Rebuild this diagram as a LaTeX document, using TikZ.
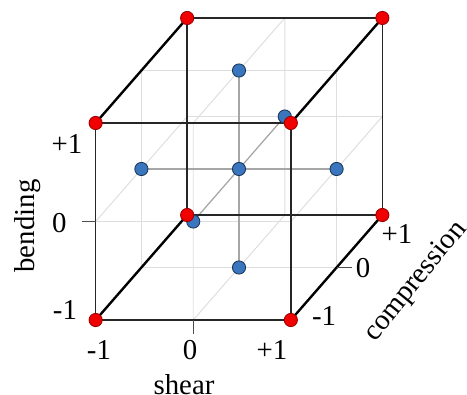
\documentclass[tikz,border=0pt]{standalone}
\usepackage{fontspec}
\setmainfont{Liberation Serif}
\usetikzlibrary{calc}

\begin{document}
\begin{tikzpicture}[x={(2.44cm,0cm)},y={(0cm,2.4625cm)},z={(1.144cm,1.3125cm)},
    font=\fontsize{20.5}{24}\selectfont]
    % Colores
    \definecolor{cornercolor}{RGB}{240,0,0}
    \definecolor{pointcolor}{RGB}{58,118,190}
    \tikzset{
        edge/.style={black!85,line width=1.2pt},
        depthedge/.style={black,line width=1.7pt},
        gridline/.style={black!13,line width=0.7pt},
        centerline/.style={black!35,line width=0.9pt},
        tickline/.style={black!70,line width=1pt},
        corner/.style={circle,fill=cornercolor,draw=cornercolor!65!black,line width=0.6pt,inner sep=0pt,minimum size=0.33cm},
        facedot/.style={circle,fill=pointcolor,draw=pointcolor!45!black,line width=0.6pt,inner sep=0pt,minimum size=0.33cm}
    }

    \useasboundingbox (-5.975cm,-5.625cm) rectangle (5.7cm,4.225cm);

    % Esquinas del cubo
    \foreach \i/\xv in {l/-1,r/1}
        \foreach \j/\yv in {b/-1,t/1}
            \foreach \k/\zv in {f/-1,k/1}
                \coordinate (c\i\j\k) at (\xv,\yv,\zv);

    % Centros de las caras
    \coordinate (fl) at (-1,0,0);
    \coordinate (fr) at (1,0,0);
    \coordinate (fb) at (0,-1,0);
    \coordinate (ft) at (0,1,0);
    \coordinate (ff) at (0,0,-1);
    \coordinate (fk) at (0,0,1);
    \coordinate (cc) at (0,0,0);

    % Rejilla en las caras
    \draw[gridline] (0,-1,-1) -- (0,1,-1) -- (0,1,1) -- (0,-1,1) -- cycle;
    \draw[gridline] (-1,0,-1) -- (1,0,-1) -- (1,0,1) -- (-1,0,1) -- cycle;
    \draw[gridline] (-1,-1,0) -- (1,-1,0) -- (1,1,0) -- (-1,1,0) -- cycle;

    % Ejes por el centro
    \draw[centerline] (fl) -- (fr);
    \draw[centerline] (fb) -- (ft);
    \draw[centerline] (ff) -- (fk);

    % Aristas del cubo
    \draw[edge] (clbf) -- (crbf) -- (crtf) -- (cltf) -- cycle;
    \draw[edge] (clbk) -- (crbk) -- (crtk) -- (cltk) -- cycle;
    \foreach \i in {l,r}
        \foreach \j in {b,t}
            \draw[depthedge] (c\i\j f) -- (c\i\j k);

    % Marcas del cero
    \coordinate (bz) at (-1,0,-1);
    \coordinate (sz) at (0,-1,-1);
    \coordinate (kz) at (1,-1,0);
    \draw[tickline] (bz) -- ++(-0.35cm,0);
    \draw[tickline] (sz) -- ++(0,-0.35cm);
    \draw[tickline] (kz) -- ++(0.38cm,0);

    % Puntos centrales
    \foreach \p in {fl,fr,fb,ft,ff,fk,cc}
        \node[facedot] (d\p) at (\p) {};

    % Puntos de las esquinas
    \foreach \i in {l,r}
        \foreach \j in {b,t}
            \foreach \k in {f,k}
                \node[corner] (d\i\j\k) at (c\i\j\k) {};

    % Etiquetas de bending
    \node (bendP) at (-4.3cm,0.625cm) {+1};
    \node (bendZ) at (-4.49cm,-1.35cm) {0};
    \node (bendM) at (-4.35cm,-3.525cm) {-1};
    \node[rotate=90] (bendT) at (-5.275cm,-1.425cm) {bending};

    % Etiquetas de shear
    \node (shearM) at (-3.5cm,-4.525cm) {-1};
    \node (shearZ) at (-1.225cm,-4.525cm) {0};
    \node (shearP) at (0.825cm,-4.525cm) {+1};
    \node[anchor=base] (shearT) at (-1.375cm,-5.63cm) {shear};

    % Etiquetas de compression
    \node (compP) at (3.95cm,-1.625cm) {+1};
    \node (compZ) at (3.1cm,-2.475cm) {0};
    \node (compM) at (2.125cm,-3.675cm) {-1};
    \node[rotate=51] (compT) at (4.43cm,-2.82cm) {compression};

\end{tikzpicture}
\end{document}
